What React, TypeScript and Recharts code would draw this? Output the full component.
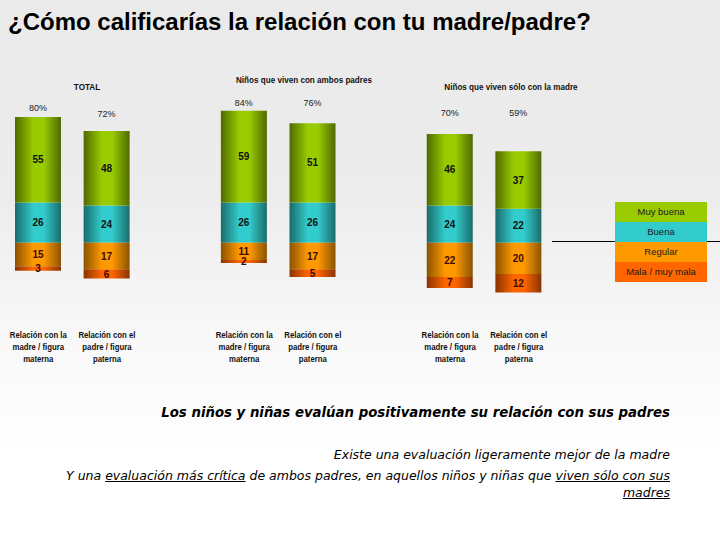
import React from 'react';
import { BarChart, Bar, XAxis, YAxis, LabelList } from 'recharts';

// data (percent of children)
const groups = ['TOTAL', 'Niños que viven con ambos padres', 'Niños que viven sólo con la madre'];
const categories = ['Relación con la\nmadre / figura\nmaterna', 'Relación con el\npadre / figura\npaterna'];
const muyBuena = [55, 48, 59, 51, 46, 37];
const buena = [26, 24, 26, 26, 24, 22];
const regular = [15, 17, 11, 17, 22, 20];
const mala = [3, 6, 2, 5, 7, 12];
const positivos = ['80%', '72%', '84%', '76%', '70%', '59%'];

const seriesNames = ['Muy buena', 'Buena', 'Regular', 'Mala / muy mala'];
const seriesColors = ['#99cc00', '#33cccc', '#ff9900', '#ff6600'];
const seriesDark = ['#4f6a00', '#1b6b6b', '#8a5300', '#8a3300'];

// layout only: vertical centre of the "xx%" label for each bar
const pctY = [109, 115, 104, 104, 114, 114];

// build rows, with an empty slot between the three groups
const rows: any[] = [];
muyBuena.forEach((_, i) => {
  rows.push({
    key: `b${i}`,
    label: categories[i % 2],
    idx: i,
    muyBuena: muyBuena[i],
    buena: buena[i],
    regular: -regular[i],
    mala: -mala[i],
  });
  if (i % 2 === 1 && i < muyBuena.length - 1) {
    rows.push({ key: `gap${i}`, label: '', idx: null, muyBuena: null, buena: null, regular: null, mala: null });
  }
});

const sans = "'Liberation Sans', Arial, sans-serif";

const CategoryTick = (props: any) => {
  const { x, y, payload } = props;
  const row = rows.find((r) => r.key === payload.value);
  if (!row || !row.label) return null;
  const lines = row.label.split('\n');
  return (
    <g transform={`translate(${x},${y}) scale(0.82,1)`}>
      <text x={0} y={0} textAnchor="middle" fontFamily={sans} fontSize={9.5} fontWeight="bold" fill="#111">
        {lines.map((l: string, i: number) => (
          <tspan key={i} x={0} dy={i === 0 ? 25 : 12}>{l}</tspan>
        ))}
      </text>
    </g>
  );
};

const PctLabel = (props: any) => {
  const { x, width, value } = props;
  if (value == null) return null;
  return (
    <text x={x + width / 2} y={pctY[value]} textAnchor="middle" dominantBaseline="middle"
      fontFamily={sans} fontSize={9} fill="#222">
      {positivos[value]}
    </text>
  );
};

const valueLabel = (color: string) => (props: any) => {
  const { x, y, width, height, value } = props;
  if (value == null) return null;
  return (
    <text x={x + width / 2} y={y + height / 2 + 1} textAnchor="middle" dominantBaseline="middle"
      fontFamily={sans} fontSize={10} fontWeight="bold" fill={color}>
      {Math.abs(value)}
    </text>
  );
};

const gradId = ['gMuy', 'gBuena', 'gReg', 'gMala'];

export default function App() {
  return (
    <div style={{
      position: 'absolute', left: 0, top: 0, width: 720, height: 540, overflow: 'hidden',
      background: 'linear-gradient(to bottom, #eaeaea 0%, #ececec 35%, #f8f8f8 62%, #ffffff 85%)',
      fontFamily: sans,
    }}>
      <div style={{ position: 'absolute', left: 8, top: 8, fontSize: 24, fontWeight: 'bold', color: '#000', whiteSpace: 'nowrap' }}>
        ¿Cómo calificarías la relación con tu madre/padre?
      </div>

      {/* group headers */}
      {[{ c: 87, t: 82 }, { c: 304, t: 75 }, { c: 511, t: 82 }].map((p, i) => (
        <div key={i} style={{
          position: 'absolute', left: p.c - 100, width: 200, top: p.t, textAlign: 'center',
          fontSize: 9, fontWeight: 'bold', color: '#111', whiteSpace: 'nowrap', transform: 'scaleX(0.9)',
        }}>{groups[i]}</div>
      ))}

      {/* zero line running out under the legend */}
      <div style={{ position: 'absolute', left: 552, top: 241, width: 168, height: 1, background: '#000' }} />

      {/* legend */}
      <div style={{ position: 'absolute', left: 615, top: 202, width: 92 }}>
        {seriesNames.map((n, i) => (
          <div key={n} style={{
            height: 20, lineHeight: '20px', background: seriesColors[i], textAlign: 'center',
            fontSize: 9.5, color: '#1a1a1a',
          }}>{n}</div>
        ))}
      </div>

      <div style={{ position: 'absolute', left: 0, top: 0 }}>
        <BarChart width={720} height={540} data={rows} stackOffset="sign" barSize={46}
          margin={{ top: 103, right: 167, bottom: 175, left: 4 }}>
          <defs>
            {gradId.map((id, i) => (
              <linearGradient key={id} id={id} x1="0" y1="0" x2="1" y2="0">
                <stop offset="0%" stopColor={seriesDark[i]} />
                <stop offset="40%" stopColor={seriesColors[i]} />
                <stop offset="62%" stopColor={seriesColors[i]} />
                <stop offset="100%" stopColor={seriesDark[i]} />
              </linearGradient>
            ))}
          </defs>
          <XAxis dataKey="key" height={60} axisLine={false} tickLine={false} interval={0} tick={<CategoryTick />} />
          <YAxis hide domain={[-40, 90]} allowDataOverflow />
          <Bar dataKey="buena" stackId="s" fill="url(#gBuena)" isAnimationActive={false}>
            <LabelList dataKey="buena" content={valueLabel('#111')} />
          </Bar>
          <Bar dataKey="muyBuena" stackId="s" fill="url(#gMuy)" isAnimationActive={false}>
            <LabelList dataKey="muyBuena" content={valueLabel('#111')} />
            <LabelList dataKey="idx" content={<PctLabel />} />
          </Bar>
          <Bar dataKey="regular" stackId="s" fill="url(#gReg)" isAnimationActive={false}>
            <LabelList dataKey="regular" content={valueLabel('#3a0a00')} />
          </Bar>
          <Bar dataKey="mala" stackId="s" fill="url(#gMala)" isAnimationActive={false}>
            <LabelList dataKey="mala" content={valueLabel('#3a0a00')} />
          </Bar>
        </BarChart>
      </div>

      {/* commentary */}
      <div style={{
        position: 'absolute', right: 50, top: 405, textAlign: 'right', whiteSpace: 'nowrap',
        fontFamily: "'DejaVu Sans', sans-serif", fontSize: 13.3, fontWeight: 'bold', fontStyle: 'italic', color: '#000',
      }}>
        Los niños y niñas evalúan positivamente su relación con sus padres
      </div>
      <div style={{
        position: 'absolute', right: 50, top: 446, textAlign: 'right', whiteSpace: 'nowrap',
        fontFamily: "'DejaVu Sans', sans-serif", fontSize: 12.5, fontStyle: 'italic', color: '#000', lineHeight: '17px',
      }}>
        Existe una evaluación ligeramente mejor de la madre
        <div style={{ marginTop: 4 }}>
          Y una <u>evaluación más crítica</u> de ambos padres, en aquellos niños y niñas que <u>viven sólo con sus</u>
        </div>
        <div><u>madres</u></div>
      </div>
    </div>
  );
}
